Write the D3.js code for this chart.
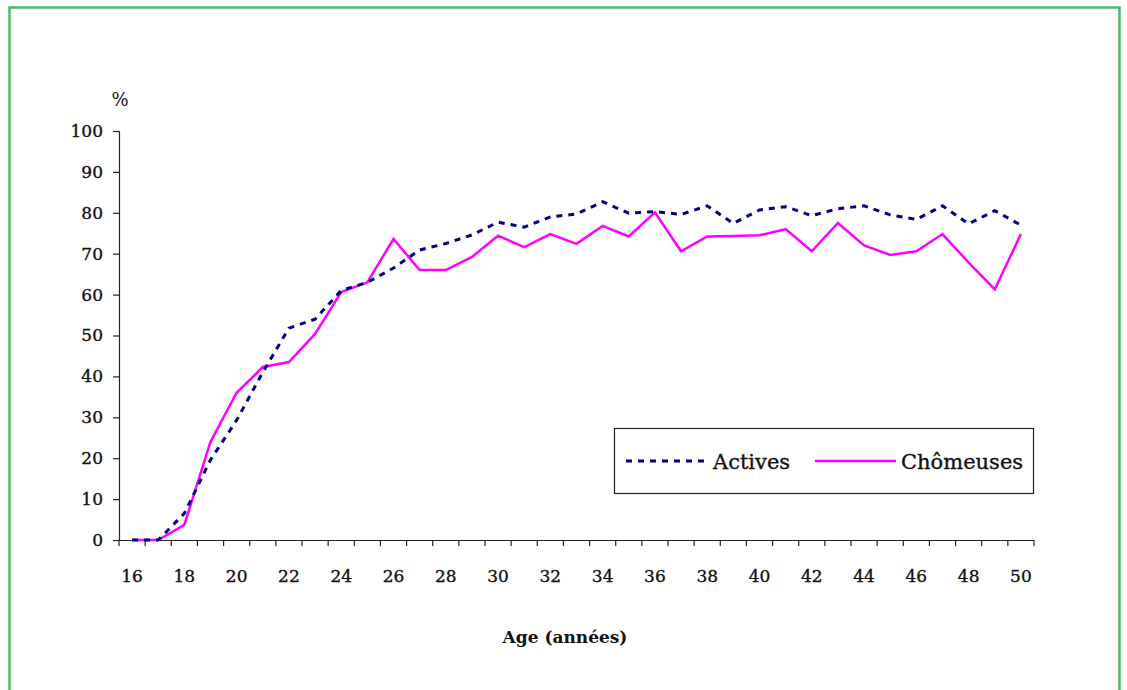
<!DOCTYPE html>
<html>
<head>
<meta charset="utf-8">
<script src="https://cdn.jsdelivr.net/npm/d3@7"></script>
<style>
  html, body { margin: 0; padding: 0; background: #fff; }
  svg { display: block; }
  text { font-family: "DejaVu Serif", "Liberation Serif", serif; fill: #111; }
  .heavy { stroke: #111; stroke-width: 0.35px; }
</style>
</head>
<body>
<script>
// Ages on the category axis
const ages = d3.range(16, 51);
// Share (%) by age
const actives = [0, 0, 6.5, 19.6, 29.3, 41, 51.8, 54, 61, 63, 66.5, 70.9, 72.5, 74.6, 77.7, 76.5, 79, 79.7, 82.7, 79.9, 80.3, 79.6, 81.7, 77.4, 80.7, 81.5, 79.3, 81, 81.7, 79.5, 78.4, 81.7, 77.3, 80.5, 77];
const chomeuses = [0, 0, 3.7, 24, 36, 42.3, 43.5, 50.4, 60.6, 63, 73.6, 66, 66, 69.2, 74.4, 71.6, 74.8, 72.4, 76.8, 74.2, 80.1, 70.6, 74.2, 74.3, 74.5, 76, 70.6, 77.5, 72, 69.7, 70.6, 74.8, 67.8, 61.3, 74.8];
const yTicks = [0, 10, 20, 30, 40, 50, 60, 70, 80, 90, 100];
const xLabels = d3.range(16, 51, 2);
const seriesNames = ["Actives", "Chômeuses"];

const W = 1127, H = 690;
const plot = { left: 119, right: 1034, top: 131, bottom: 540 };

const svg = d3.select("body").append("svg").attr("width", W).attr("height", H);

// Green frame around the chart
svg.append("rect")
  .attr("x", 9.5).attr("y", 7.5).attr("width", 1110).attr("height", 700)
  .attr("fill", "none").attr("stroke", "#4cb66b").attr("stroke-width", 2.5);

const x = d3.scaleBand().domain(ages).range([plot.left, plot.right]).padding(0);
const xc = a => x(a) + x.bandwidth() / 2;
const y = d3.scaleLinear().domain([0, 100]).range([plot.bottom, plot.top]);

// Y axis
const yAxis = d3.axisLeft(y).tickValues(yTicks).tickSize(6).tickPadding(10);
const gy = svg.append("g").attr("transform", `translate(${plot.left},0)`).call(yAxis);
gy.select(".domain").attr("stroke", "#222").attr("stroke-width", 1.2);
gy.selectAll(".tick line").attr("stroke", "#222").attr("stroke-width", 1.2);
gy.selectAll(".tick text").attr("class", "heavy").attr("font-size", 17)
  .attr("font-family", "DejaVu Serif").attr("fill", "#111");

// X axis: tick marks at category boundaries, labels every other age
const xAxis = d3.axisBottom(x).tickSize(0).tickPadding(30)
  .tickFormat(a => (xLabels.includes(a) ? a : ""));
const gx = svg.append("g").attr("transform", `translate(0,${plot.bottom})`).call(xAxis);
gx.select(".domain").remove();
gx.selectAll(".tick text").attr("class", "heavy").attr("font-size", 17)
  .attr("font-family", "DejaVu Serif").attr("fill", "#111");
gx.append("line").attr("x1", plot.left).attr("x2", plot.right).attr("y1", 0.5).attr("y2", 0.5)
  .attr("stroke", "#222").attr("stroke-width", 1.2);
gx.selectAll("line.bound").data(ages.concat([51])).enter().append("line")
  .attr("class", "bound")
  .attr("x1", a => (a === 51 ? plot.right : x(a))).attr("x2", a => (a === 51 ? plot.right : x(a)))
  .attr("y1", 0).attr("y2", 6).attr("stroke", "#222").attr("stroke-width", 1.2);

// Unit and axis title
svg.append("text").attr("x", 120).attr("y", 106).attr("text-anchor", "middle")
  .attr("font-size", 18).text("%");
svg.append("text").attr("x", 565).attr("y", 643).attr("text-anchor", "middle")
  .attr("font-size", 17).attr("font-weight", "bold").text("Age (années)");

// Series lines
const line = d3.line().x((d, i) => xc(ages[i])).y(d => y(d));
svg.append("path").datum(chomeuses).attr("d", line)
  .attr("fill", "none").attr("stroke", "#ff00ff").attr("stroke-width", 2.5)
  .attr("stroke-linejoin", "miter");
svg.append("path").datum(actives).attr("d", line)
  .attr("fill", "none").attr("stroke", "#000080").attr("stroke-width", 3)
  .attr("stroke-dasharray", "6,6");

// Legend
const lg = svg.append("g");
lg.append("rect").attr("x", 614.5).attr("y", 428.5).attr("width", 419).attr("height", 65)
  .attr("fill", "#fff").attr("stroke", "#222").attr("stroke-width", 1.2);
lg.append("line").attr("x1", 626).attr("x2", 710).attr("y1", 461).attr("y2", 461)
  .attr("stroke", "#000080").attr("stroke-width", 3).attr("stroke-dasharray", "6,6");
lg.append("text").attr("class", "heavy").attr("x", 713).attr("y", 469).attr("font-size", 21).text(seriesNames[0]);
lg.append("line").attr("x1", 815).attr("x2", 896).attr("y1", 461).attr("y2", 461)
  .attr("stroke", "#ff00ff").attr("stroke-width", 2.5);
lg.append("text").attr("class", "heavy").attr("x", 901).attr("y", 469).attr("font-size", 21).text(seriesNames[1]);
</script>
</body>
</html>
